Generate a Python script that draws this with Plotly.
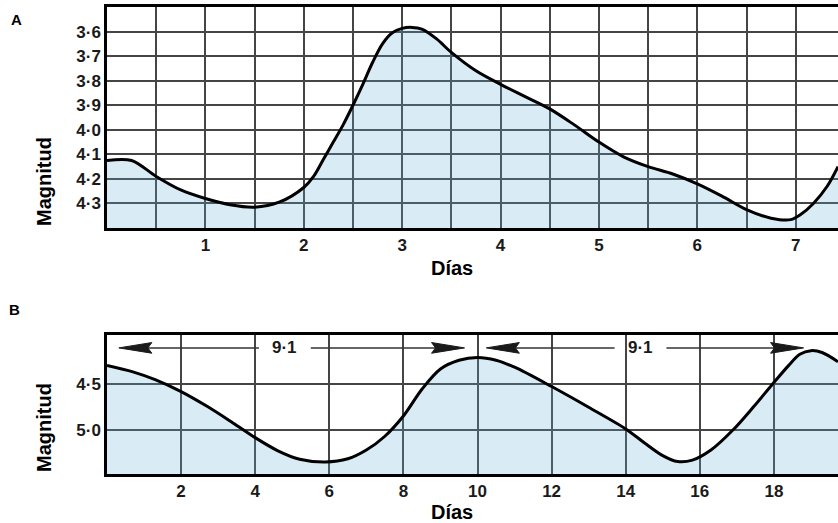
import plotly.graph_objects as go

# ---- Data ----
top_days = [0.0, 0.25, 0.5, 0.75, 1.0, 1.25, 1.5, 1.75, 2.0, 2.1, 2.2, 2.3, 2.4, 2.5, 2.6,
            2.7, 2.8, 2.9, 3.0, 3.1, 3.2, 3.35, 3.5, 3.75, 4.0, 4.25, 4.5, 4.75, 5.0, 5.25,
            5.5, 5.75, 6.0, 6.25, 6.5, 6.75, 6.95, 7.05, 7.18, 7.32, 7.43]
top_mag = [4.125, 4.125, 4.19, 4.245, 4.28, 4.305, 4.315, 4.295, 4.235, 4.19, 4.12, 4.05,
           3.98, 3.90, 3.815, 3.725, 3.65, 3.605, 3.587, 3.583, 3.59, 3.63, 3.685, 3.76,
           3.815, 3.865, 3.915, 3.98, 4.05, 4.11, 4.15, 4.18, 4.22, 4.27, 4.325, 4.36,
           4.366, 4.345, 4.30, 4.23, 4.15]

bot_days = [0.0, 0.7, 1.3, 2.0, 2.7, 3.4, 4.0, 4.6, 5.2, 5.9, 6.5, 7.0, 7.5, 8.0, 8.5, 9.0,
            9.5, 10.0, 10.5, 11.0, 12.0, 13.0, 14.0, 14.5, 15.0, 15.4, 15.8, 16.3, 16.9,
            17.45, 17.95, 18.4, 18.7, 19.0, 19.3, 19.73]
bot_mag = [4.30, 4.37, 4.455, 4.585, 4.745, 4.925, 5.085, 5.225, 5.32, 5.35, 5.315, 5.22,
           5.07, 4.85, 4.56, 4.34, 4.245, 4.215, 4.245, 4.32, 4.53, 4.755, 4.99, 5.14, 5.28,
           5.345, 5.33, 5.22, 5.0, 4.75, 4.51, 4.30, 4.18, 4.14, 4.16, 4.26]

top_ytick_vals = [3.6, 3.7, 3.8, 3.9, 4.0, 4.1, 4.2, 4.3]
top_ytick_text = ["3·6", "3·7", "3·8", "3·9", "4·0", "4·1", "4·2", "4·3"]
top_xtick_vals = [1, 2, 3, 4, 5, 6, 7]
bot_ytick_vals = [4.5, 5.0]
bot_ytick_text = ["4·5", "5·0"]
bot_xtick_vals = [2, 4, 6, 8, 10, 12, 14, 16, 18]

period_label = "9·1"
period_starts = [0.32, 10.24]
period_ends = [9.65, 18.8]
period_centers = [4.8, 14.4]
period_mag = 4.11

top_range = [4.4, 3.5]
bot_range = [5.48, 3.97]

# ---- Style ----
W, H = 838, 523
FILL = "rgba(95,170,215,0.24)"
GRID = "#454545"
FONT = "Liberation Sans, Arial, sans-serif"
X0 = 107 / W

fig = go.Figure()

fig.add_trace(go.Scatter(x=[top_days[0], top_days[-1]], y=[top_range[0]] * 2, mode="lines",
                         line=dict(width=0), hoverinfo="skip", showlegend=False,
                         xaxis="x", yaxis="y"))
fig.add_trace(go.Scatter(x=top_days, y=top_mag, mode="lines", fill="tonexty", fillcolor=FILL,
                         line=dict(color="black", width=3, shape="spline", smoothing=0.9),
                         showlegend=False, xaxis="x", yaxis="y"))
fig.add_trace(go.Scatter(x=[bot_days[0], bot_days[-1]], y=[bot_range[0]] * 2, mode="lines",
                         line=dict(width=0), hoverinfo="skip", showlegend=False,
                         xaxis="x2", yaxis="y2"))
fig.add_trace(go.Scatter(x=bot_days, y=bot_mag, mode="lines", fill="tonexty", fillcolor=FILL,
                         line=dict(color="black", width=3, shape="spline", smoothing=0.9),
                         showlegend=False, xaxis="x2", yaxis="y2"))

tickfont = dict(family=FONT, size=17, color="#1a1a1a", weight="bold")
common = dict(showgrid=True, gridcolor=GRID, gridwidth=1.5, showline=True, linecolor="black",
              linewidth=2.5, ticks="", tickfont=tickfont, zeroline=False, automargin=False,
              fixedrange=True)

fig.update_layout(
    width=W, height=H,
    margin=dict(l=0, r=0, t=0, b=0),
    paper_bgcolor="white", plot_bgcolor="white",
    font=dict(family=FONT),
    xaxis=dict(domain=[X0, 1], anchor="y", range=[0, 7.43], tickvals=top_xtick_vals,
               minor=dict(dtick=0.5, tick0=0, showgrid=True, gridcolor=GRID, gridwidth=1.5),
               mirror=True, **common),
    yaxis=dict(domain=[1 - 228 / H, 1 - 7 / H], anchor="x", range=top_range,
               tickvals=top_ytick_vals, ticktext=top_ytick_text, mirror=False, **common),
    xaxis2=dict(domain=[X0, 1], anchor="y2", range=[0, 19.73], tickvals=bot_xtick_vals,
                mirror=True, **common),
    yaxis2=dict(domain=[1 - 474 / H, 1 - 335 / H], anchor="x2", range=bot_range,
                tickvals=bot_ytick_vals, ticktext=bot_ytick_text, mirror=False, **common),
)

ann = []
titlefont = dict(family=FONT, size=20, color="black", weight="bold")
letterfont = dict(family=FONT, size=15, color="black", weight="bold")


def paper_text(text, px, py, font, angle=0):
    return dict(text=text, x=px / W, y=1 - py / H, xref="paper", yref="paper",
                xanchor="center", yanchor="middle", showarrow=False, textangle=angle, font=font)


ann.append(paper_text("A", 16, 19, letterfont))
ann.append(paper_text("B", 14, 309, letterfont))
ann.append(paper_text("Días", 452, 268, titlefont))
ann.append(paper_text("Días", 452, 512, titlefont))
ann.append(paper_text("Magnitud", 44, 182, titlefont, -90))
ann.append(paper_text("Magnitud", 44, 428, titlefont, -90))

shapes = []
gap = 0.7
head_len = 0.89      # days (~33 px)
head_half = 0.058    # magnitude units (~5 px)
for s, e, c in zip(period_starts, period_ends, period_centers):
    ann.append(dict(text=period_label, x=c, y=period_mag, xref="x2", yref="y2", showarrow=False,
                    font=dict(family=FONT, size=17, color="#1a1a1a", weight="bold")))
    shapes.append(dict(type="line", xref="x2", yref="y2", x0=s + head_len * 0.8, x1=c - gap,
                       y0=period_mag, y1=period_mag, line=dict(color="#333", width=1.5)))
    shapes.append(dict(type="line", xref="x2", yref="y2", x0=c + gap, x1=e - head_len * 0.8,
                       y0=period_mag, y1=period_mag, line=dict(color="#333", width=1.5)))
    lp = (f"M{s},{period_mag} L{s + head_len},{period_mag - head_half} "
          f"L{s + head_len * 0.88},{period_mag} L{s + head_len},{period_mag + head_half} Z")
    rp = (f"M{e},{period_mag} L{e - head_len},{period_mag - head_half} "
          f"L{e - head_len * 0.88},{period_mag} L{e - head_len},{period_mag + head_half} Z")
    for p in (lp, rp):
        shapes.append(dict(type="path", xref="x2", yref="y2", path=p,
                           fillcolor="#1a1a1a", line=dict(color="#1a1a1a", width=1)))

fig.update_layout(annotations=ann, shapes=shapes)
fig.write_html("out.html", config={"displayModeBar": False},
               post_script="document.body.style.margin='0px';document.body.style.overflow='hidden';")
